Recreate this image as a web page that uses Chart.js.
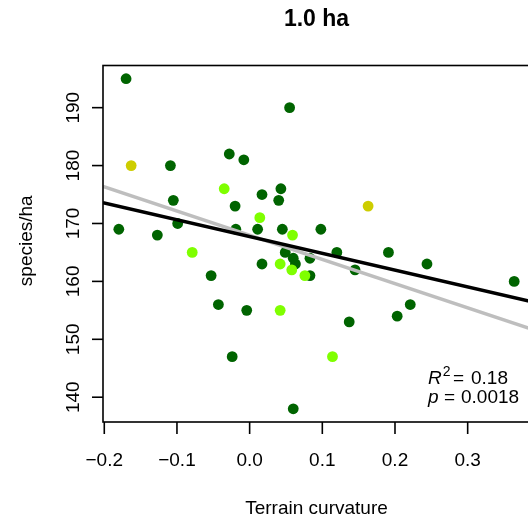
<!DOCTYPE html>
<html><head><meta charset="utf-8">
<script src="https://cdn.jsdelivr.net/npm/chart.js@4.4.0/dist/chart.umd.min.js"></script>
<style>html,body{margin:0;padding:0;overflow:hidden;background:#fff}#wrap{width:560px;height:525px;position:relative}</style>
</head><body><div id="wrap"><canvas id="c"></canvas></div>
<script>
// ---- data ----
const curvatureDark = [-0.170,-0.109,-0.105,-0.180,-0.099,-0.127,-0.053,-0.043,-0.028,-0.008,-0.020,-0.019,-0.004,0.055,0.017,0.043,0.040,0.011,0.045,0.098,0.049,0.060,0.063,0.083,0.120,0.017,0.083,0.145,0.137,0.191,0.244,0.221,0.203,0.364,-0.024,0.060];
const speciesDark   = [195,180,174,169,170,168,161,156,182,181,173,169,155,190,175,176,174,169,169,169,165,164,163,164,165,163,161,162,153,165,163,156,154,160,147,138];
const curvatureLight = [-0.079,-0.035,0.014,0.059,0.042,0.058,0.076,0.042,0.114];
const speciesLight   = [165,176,171,168,163,162,161,155,147];
const curvatureYellow = [-0.163,0.163];
const speciesYellow   = [180,173];
const groupColors = {dark:'#006400', light:'#7FFF00', yellow:'#CDCD00'};
// regression lines: [grey, black]
const fitNames = ['grey fit','black fit'];
const fitIntercepts = [167.96, 167.74];
const fitSlopes = [-41.8, -29.0];
const fitColors = ['#BEBEBE','#000000'];
const xTicks = [-0.2,-0.1,0.0,0.1,0.2,0.3];
const xTickLabels = ['\u22120.2','\u22120.1','0.0','0.1','0.2','0.3'];
const yTicks = [140,150,160,170,180,190];
const yTickLabels = ['140','150','160','170','180','190'];
const titleText = '1.0 ha';
const xTitle = 'Terrain curvature';
const yTitle = 'species/ha';
const r2Text = '0.18';
const pText = '0.0018';

// ---- build points (data order: dark, light, yellow) ----
const pts = [], cols = [];
function addGroup(xs, ys, g){ xs.forEach((v,i)=>{ pts.push({x:v,y:ys[i]}); cols.push(groupColors[g]); }); }
addGroup(curvatureDark, speciesDark, 'dark');
addGroup(curvatureLight, speciesLight, 'light');
addGroup(curvatureYellow, speciesYellow, 'yellow');
const allX = pts.map(p=>p.x), allY = pts.map(p=>p.y);
const xr = [Math.min(...allX), Math.max(...allX)], yr = [Math.min(...allY), Math.max(...allY)];
const xMin = xr[0]-0.04*(xr[1]-xr[0]), xMax = xr[1]+0.04*(xr[1]-xr[0]);
const yMin = yr[0]-0.04*(yr[1]-yr[0]), yMax = yr[1]+0.04*(yr[1]-yr[0]);

const lineSets = fitIntercepts.map((b,i)=>({
  type:'line', label:fitNames[i],
  data:[{x:xMin,y:b+fitSlopes[i]*xMin},{x:xMax,y:b+fitSlopes[i]*xMax}],
  borderColor:fitColors[i], borderWidth:3.5, pointRadius:0, fill:false, order:2-i
}));

const FONT = '"Liberation Sans", Arial, Helvetica, sans-serif';
const rPlot = {
  id:'rPlot',
  afterDraw(chart){
    const {ctx, chartArea:a, scales:{x,y}} = chart;
    ctx.save();
    ctx.strokeStyle='#000'; ctx.fillStyle='#000'; ctx.lineWidth=1.6;
    ctx.strokeRect(a.left, a.top, a.right-a.left, a.bottom-a.top);
    ctx.font = '19px '+FONT;
    ctx.textAlign='center'; ctx.textBaseline='alphabetic';
    xTicks.forEach((v,i)=>{
      const px = x.getPixelForValue(v);
      ctx.beginPath(); ctx.moveTo(px,a.bottom); ctx.lineTo(px,a.bottom+12); ctx.stroke();
      ctx.fillText(xTickLabels[i], px, a.bottom+44);
    });
    yTicks.forEach((v,i)=>{
      const py = y.getPixelForValue(v);
      ctx.beginPath(); ctx.moveTo(a.left,py); ctx.lineTo(a.left-11,py); ctx.stroke();
      ctx.save(); ctx.translate(a.left-24, py); ctx.rotate(-Math.PI/2);
      ctx.fillText(yTickLabels[i],0,0); ctx.restore();
    });
    const cx = (a.left+a.right)/2, cy=(a.top+a.bottom)/2;
    ctx.fillText(xTitle, cx, 514);
    ctx.save(); ctx.translate(32, cy-3); ctx.rotate(-Math.PI/2); ctx.fillText(yTitle,0,0); ctx.restore();
    ctx.font = 'bold 23px '+FONT;
    ctx.fillText(titleText, cx, 26);
    // R^2 / p annotation
    ctx.textAlign='left';
    const tx = 428;
    ctx.font = 'italic 19px '+FONT;
    ctx.fillText('R', tx, 384);
    const wR = ctx.measureText('R').width;
    ctx.font = '14px '+FONT;
    ctx.fillText('2', tx+wR+1, 376);
    ctx.font = '19px '+FONT;
    ctx.fillText('=', tx+25, 384);
    ctx.fillText(r2Text, tx+43, 384);
    ctx.font = 'italic 19px '+FONT;
    ctx.fillText('p', tx, 403);
    ctx.font = '19px '+FONT;
    ctx.fillText('=', tx+16, 403);
    ctx.fillText(pText, tx+33, 403);
    ctx.restore();
  }
};

new Chart(document.getElementById('c'), {
  type:'scatter',
  data:{datasets:[
    {type:'scatter', label:'plots', data:pts, pointBackgroundColor:cols, pointBorderWidth:0, pointBorderColor:cols, pointRadius:5.4, order:3},
    ...lineSets
  ]},
  options:{
    responsive:true, maintainAspectRatio:false, animation:false,
    layout:{padding:{left:103, top:65.5, right:30, bottom:103}},
    plugins:{legend:{display:false}, tooltip:{enabled:false}},
    scales:{
      x:{type:'linear', display:false, min:xMin, max:xMax},
      y:{type:'linear', display:false, min:yMin, max:yMax}
    }
  },
  plugins:[rPlot]
});
</script>
</body></html>
